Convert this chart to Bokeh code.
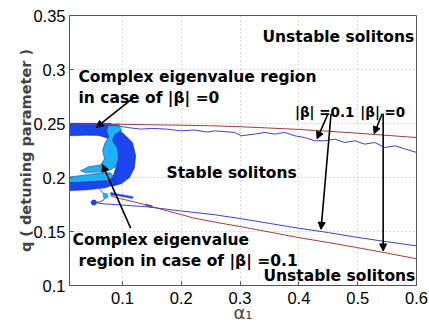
from bokeh.plotting import figure
from bokeh.models import Range1d, FixedTicker, Arrow, NormalHead, ColumnDataSource
from bokeh.core.properties import value
from bokeh.embed import file_html
from bokeh.resources import INLINE

# ---- data ----
x_ticks = [0.1, 0.2, 0.3, 0.4, 0.5, 0.6]
x_tick_labels = ["0.1", "0.2", "0.3", "0.4", "0.5", "0.6"]
y_ticks = [0.1, 0.15, 0.2, 0.25, 0.3, 0.35]
y_tick_labels = ["0.1", "0.15", "0.2", "0.25", "0.3", "0.35"]

# |beta| = 0 boundaries (red)
alpha_red_up = [0.01, 0.05, 0.1, 0.15, 0.2, 0.25, 0.3, 0.35, 0.4, 0.45, 0.5, 0.55, 0.6]
q_red_up = [0.2497, 0.2495, 0.2492, 0.2488, 0.2484, 0.2479, 0.2470, 0.2458, 0.2445, 0.2428, 0.2410, 0.2390, 0.2370]
alpha_red_low = [0.08, 0.092, 0.126, 0.15, 0.177, 0.221, 0.257, 0.3, 0.35, 0.4, 0.45, 0.5, 0.55, 0.6]
q_red_low = [0.183, 0.181, 0.1766, 0.173, 0.169, 0.1625, 0.1587, 0.1546, 0.1495, 0.1443, 0.1398, 0.1350, 0.1300, 0.1247]

# |beta| = 0.1 boundaries (blue)
alpha_blue_up = [0.01, 0.03, 0.05, 0.07, 0.091, 0.108, 0.131, 0.15, 0.176, 0.199, 0.222, 0.245, 0.257,
                 0.291, 0.302, 0.325, 0.342, 0.359, 0.376, 0.393, 0.410, 0.427, 0.444, 0.461, 0.478,
                 0.495, 0.512, 0.529, 0.546, 0.564, 0.581, 0.6]
q_blue_up = [0.2495, 0.2493, 0.249, 0.2486, 0.2479, 0.2463, 0.2448, 0.2455, 0.2448, 0.2432, 0.2440, 0.2420, 0.2432,
             0.2417, 0.2386, 0.2402, 0.2417, 0.2402, 0.2417, 0.2386, 0.237, 0.234, 0.234, 0.2355, 0.2324,
             0.234, 0.2309, 0.2324, 0.2278, 0.2293, 0.2263, 0.2232]
alpha_blue_low = [0.052, 0.07, 0.1, 0.143, 0.2, 0.257, 0.3, 0.35, 0.4, 0.45, 0.5, 0.55, 0.6]
q_blue_low = [0.1768, 0.1755, 0.1745, 0.1728, 0.1690, 0.1655, 0.1620, 0.1575, 0.1530, 0.1490, 0.1445, 0.1405, 0.1367]
alpha_blue_curl = [0.0514, 0.062, 0.068, 0.0705, 0.067, 0.061]
q_blue_curl = [0.1768, 0.1775, 0.179, 0.182, 0.186, 0.189]

# complex-eigenvalue regions (filled contours)
alpha_dark1 = [0.0100, 0.0799, 0.0901, 0.1037, 0.1173, 0.1225, 0.1205, 0.1120, 0.0990, 0.0833, 0.0765,
               0.0850, 0.0900, 0.0910, 0.0850, 0.0730, 0.0594, 0.0373, 0.0100]
q_dark1 = [0.2502, 0.2502, 0.2460, 0.2395, 0.2321, 0.2201, 0.2090, 0.2000, 0.1945, 0.1920, 0.1960,
           0.2025, 0.2108, 0.2229, 0.2312, 0.2367, 0.2390, 0.2392, 0.2386]
alpha_light1 = [0.0765, 0.0935, 0.0986, 0.0867, 0.0833, 0.0918, 0.0935, 0.0884, 0.0765, 0.0594, 0.0373,
                0.0287, 0.0424, 0.0628, 0.0696, 0.0662, 0.0696, 0.0765, 0.0730]
q_light1 = [0.2488, 0.2497, 0.2432, 0.2395, 0.2340, 0.2266, 0.2173, 0.2099, 0.2062, 0.2053, 0.2043,
            0.2062, 0.2099, 0.2117, 0.2173, 0.2247, 0.2312, 0.2377, 0.2432]
alpha_light2 = [0.0100, 0.0373, 0.0628, 0.0799, 0.0850, 0.0713, 0.0458, 0.0100]
q_light2 = [0.2005, 0.2024, 0.2043, 0.2043, 0.2006, 0.1969, 0.1960, 0.1951]
alpha_dark2 = [0.0100, 0.0458, 0.0713, 0.0850, 0.0901, 0.0713, 0.0424, 0.0100]
q_dark2 = [0.1951, 0.1960, 0.1969, 0.1979, 0.1942, 0.1905, 0.1886, 0.1877]
alpha_dark3 = [0.080, 0.095, 0.118, 0.117, 0.095, 0.080]
q_dark3 = [0.1862, 0.1845, 0.1822, 0.1805, 0.1828, 0.1838]
alpha_dark4 = [0.1395, 0.151, 0.150, 0.139]
q_dark4 = [0.1755, 0.1738, 0.1722, 0.1740]
alpha_dots = [0.0713, 0.0514]
q_dots = [0.1830, 0.1768]
dot_kind = ["light", "dark"]

# annotations
ann_text_left = ["Complex eigenvalue region", "in case of |\u03b2| =0", "Stable solitons",
                 "Complex eigenvalue", "region in case of |\u03b2| =0.1"]
ann_x_left = [0.0253, 0.0253, 0.1750, 0.0153, 0.0253]
ann_y_left = [0.2926, 0.2733, 0.2046, 0.1423, 0.1230]
ann_text_right = ["Unstable solitons", "Unstable solitons"]
ann_x_right = [0.5962, 0.5980]
ann_y_right = [0.3298, 0.1090]
beta_text = ["|\u03b2| =0.1", "|\u03b2| =0"]
beta_x = [0.3934, 0.5045]
beta_y = [0.2602, 0.2602]

arrow_x0 = [0.1196, 0.1140, 0.4496, 0.4547, 0.5417, 0.5433]
arrow_y0 = [0.2741, 0.1531, 0.2590, 0.2590, 0.2590, 0.2590]
arrow_x1 = [0.0555, 0.0660, 0.4309, 0.4377, 0.5280, 0.5433]
arrow_y1 = [0.2463, 0.2120, 0.2358, 0.1520, 0.2405, 0.1320]

DARK = "#1a46f0"
LIGHT = "#1cb2f5"
RED = "#a83a3a"
BLUE = "#4040c8"

p = figure(width=429, height=328, output_backend="svg", toolbar_location=None,
           x_range=Range1d(0.01, 0.6), y_range=Range1d(0.1, 0.35),
           min_border_left=69, min_border_right=13, min_border_top=15, min_border_bottom=43)
p.background_fill_color = "white"
p.border_fill_color = "white"
p.outline_line_color = "#555555"

# axes
for ax in (p.xaxis[0], p.yaxis[0]):
    ax.major_tick_in = 4
    ax.major_tick_out = 0
    ax.minor_tick_line_color = None
    ax.axis_line_color = "#555555"
    ax.major_tick_line_color = "#555555"
    ax.major_label_text_font = "Liberation Sans"
    ax.major_label_text_font_size = "16.5px"
    ax.major_label_text_color = "black"
p.xaxis.ticker = FixedTicker(ticks=x_ticks)
p.yaxis.ticker = FixedTicker(ticks=y_ticks)
p.xaxis.major_label_overrides = dict(zip(x_ticks, x_tick_labels))
p.yaxis.major_label_overrides = dict(zip(y_ticks, y_tick_labels))
p.xaxis.major_label_standoff = 6
p.yaxis.major_label_standoff = 4
p.xaxis.axis_label = "\u03b1\u2081"
p.xaxis.axis_label_text_font = "DejaVu Sans"
p.xaxis.axis_label_text_font_style = "normal"
p.xaxis.axis_label_text_font_size = "18px"
p.xaxis.axis_label_standoff = -5
p.yaxis.axis_label = "q ( detuning parameter )"
p.yaxis.axis_label_text_font = "DejaVu Sans"
p.yaxis.axis_label_text_font_style = "bold"
p.yaxis.axis_label_text_font_size = "14.5px"
p.yaxis.axis_label_standoff = -4

p.grid.grid_line_color = "#b0b0b0"
p.grid.grid_line_dash = "1 3"
p.grid.grid_line_width = 1

# filled regions
p.patch(alpha_dark1, q_dark1, fill_color=DARK, line_color="#1a2a90", line_width=0.6)
p.patch(alpha_light1, q_light1, fill_color=LIGHT, line_color="#1a2a90", line_width=0.5)
p.patch(alpha_light2, q_light2, fill_color=LIGHT, line_color="#1a2a90", line_width=0.5)
p.patch(alpha_dark2, q_dark2, fill_color=DARK, line_color="#1a2a90", line_width=0.5)
p.patch(alpha_dark3, q_dark3, fill_color=DARK, line_color=DARK, line_width=0.5)
p.patch(alpha_dark4, q_dark4, fill_color=DARK, line_color=DARK, line_width=0.5)

# boundary lines
p.line(alpha_red_up, q_red_up, line_color=RED, line_width=1)
p.line(alpha_red_low, q_red_low, line_color=RED, line_width=1)
p.line(alpha_blue_up, q_blue_up, line_color=BLUE, line_width=1)
p.line(alpha_blue_low, q_blue_low, line_color=BLUE, line_width=1)
p.line(alpha_blue_curl, q_blue_curl, line_color=BLUE, line_width=1)
dot_src = ColumnDataSource(dict(x=alpha_dots, y=q_dots,
                                c=[LIGHT if k == "light" else DARK for k in dot_kind]))
p.scatter("x", "y", source=dot_src, size=5, fill_color="c", line_color="c")

# texts
FONT = value("DejaVu Sans")
p.text(ann_x_left, ann_y_left, text=ann_text_left, text_font=FONT, text_font_style="bold",
       text_font_size="15.5px", text_align="left", text_baseline="alphabetic", text_color="black")
p.text(ann_x_right, ann_y_right, text=ann_text_right, text_font=FONT, text_font_style="bold",
       text_font_size="15.5px", text_align="right", text_baseline="alphabetic", text_color="black")
p.text(beta_x, beta_y, text=beta_text, text_font=FONT, text_font_style="bold",
       text_font_size="13.5px", text_align="left", text_baseline="alphabetic", text_color="black")

arrow_src = ColumnDataSource(dict(x0=arrow_x0, y0=arrow_y0, x1=arrow_x1, y1=arrow_y1))
p.add_layout(Arrow(end=NormalHead(size=7, fill_color="black", line_color="black"),
                   x_start="x0", y_start="y0", x_end="x1", y_end="y1",
                   source=arrow_src, line_color="black", line_width=1.6))

open("out.html", "w").write(file_html(p, INLINE))
